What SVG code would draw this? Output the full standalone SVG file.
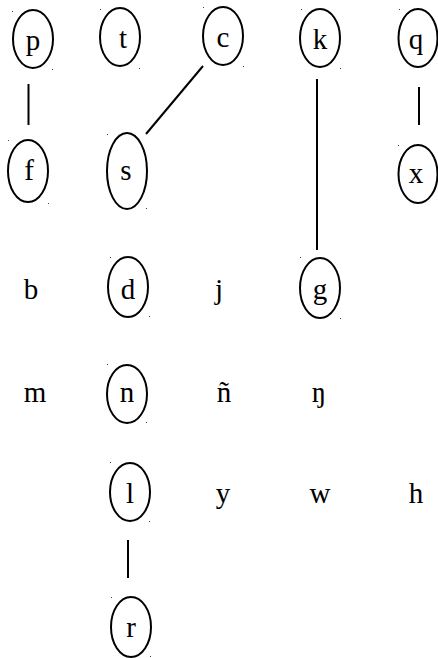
<svg xmlns="http://www.w3.org/2000/svg" width="438" height="658" viewBox="0 0 438 658">
<style>
.n ellipse{fill:none;stroke:#000;stroke-width:2}
text{font-family:"Liberation Serif","DejaVu Serif",serif;font-size:29px;fill:#000;text-anchor:middle}
.d{fill:#444}
#edges line{stroke:#000;stroke-width:2}
</style>
<rect width="438" height="658" fill="#fff"/>
<g id="edges">
<line x1="28.5" y1="84" x2="28.5" y2="125"/>
<line x1="203" y1="66" x2="146" y2="134"/>
<line x1="317" y1="79" x2="317" y2="250"/>
<line x1="419" y1="87" x2="419" y2="125"/>
<line x1="128" y1="540" x2="128" y2="578"/>
</g>
<g id="node-p" class="n"><ellipse cx="33" cy="39" rx="20" ry="29"/><text x="33" y="50">p</text><rect class="d" x="12" y="11" width="1" height="1"/><rect class="d" x="52" y="69" width="1" height="1"/></g>
<g id="node-t" class="n"><ellipse cx="120" cy="37" rx="20" ry="29"/><text x="123" y="48">t</text><rect class="d" x="100" y="9" width="1" height="1"/><rect class="d" x="139" y="68" width="1" height="1"/></g>
<g id="node-c" class="n"><ellipse cx="223" cy="36" rx="20" ry="29"/><text x="223" y="47">c</text><rect class="d" x="203" y="7" width="1" height="1"/><rect class="d" x="243" y="66" width="1" height="1"/></g>
<g id="node-k" class="n"><ellipse cx="320" cy="38" rx="20" ry="29"/><text x="320" y="49">k</text><rect class="d" x="301" y="9" width="1" height="1"/><rect class="d" x="340" y="68" width="1" height="1"/></g>
<g id="node-q" class="n"><ellipse cx="418" cy="38" rx="19.5" ry="29"/><text x="416" y="49">q</text><rect class="d" x="399" y="9" width="1" height="1"/></g>
<g id="node-f" class="n"><ellipse cx="28" cy="171" rx="20" ry="31"/><text x="29" y="180">f</text><rect class="d" x="8" y="140" width="1" height="1"/><rect class="d" x="48" y="203" width="1" height="1"/></g>
<g id="node-s" class="n"><ellipse cx="127" cy="171" rx="20" ry="38"/><text x="126" y="180">s</text><rect class="d" x="107" y="134" width="1" height="1"/><rect class="d" x="146" y="208" width="1" height="1"/></g>
<g id="node-x" class="n"><ellipse cx="418" cy="174" rx="19.5" ry="29"/><text x="416" y="183">x</text><rect class="d" x="398" y="145" width="1" height="1"/></g>
<g id="node-b"><text x="31" y="299">b</text></g>
<g id="node-d" class="n"><ellipse cx="128" cy="287" rx="20" ry="30"/><text x="128" y="299">d</text><rect class="d" x="110" y="257" width="1" height="1"/><rect class="d" x="149" y="316" width="1" height="1"/></g>
<g id="node-j"><text x="219" y="299">j</text></g>
<g id="node-g" class="n"><ellipse cx="320" cy="288" rx="20" ry="30"/><text x="320" y="299">g</text><rect class="d" x="300" y="257" width="1" height="1"/><rect class="d" x="340" y="318" width="1" height="1"/></g>
<g id="node-m"><text x="35" y="402">m</text></g>
<g id="node-n" class="n"><ellipse cx="127" cy="394" rx="20" ry="29"/><text x="127" y="402">n</text><rect class="d" x="107" y="364" width="1" height="1"/><rect class="d" x="146" y="422" width="1" height="1"/></g>
<g id="node-ntilde"><text x="224" y="402">ñ</text></g>
<g id="node-eng"><text x="319" y="402">ŋ</text></g>
<g id="node-l" class="n"><ellipse cx="130" cy="492" rx="20" ry="29"/><text x="130" y="503">l</text><rect class="d" x="110" y="462" width="1" height="1"/><rect class="d" x="149" y="521" width="1" height="1"/></g>
<g id="node-y"><text x="223" y="503">y</text></g>
<g id="node-w"><text x="320" y="503">w</text></g>
<g id="node-h"><text x="416" y="503">h</text></g>
<g id="node-r" class="n"><ellipse cx="131" cy="627" rx="20" ry="30"/><text x="131" y="637">r</text><rect class="d" x="111" y="597" width="1" height="1"/><rect class="d" x="150" y="656" width="1" height="1"/></g>
</svg>
